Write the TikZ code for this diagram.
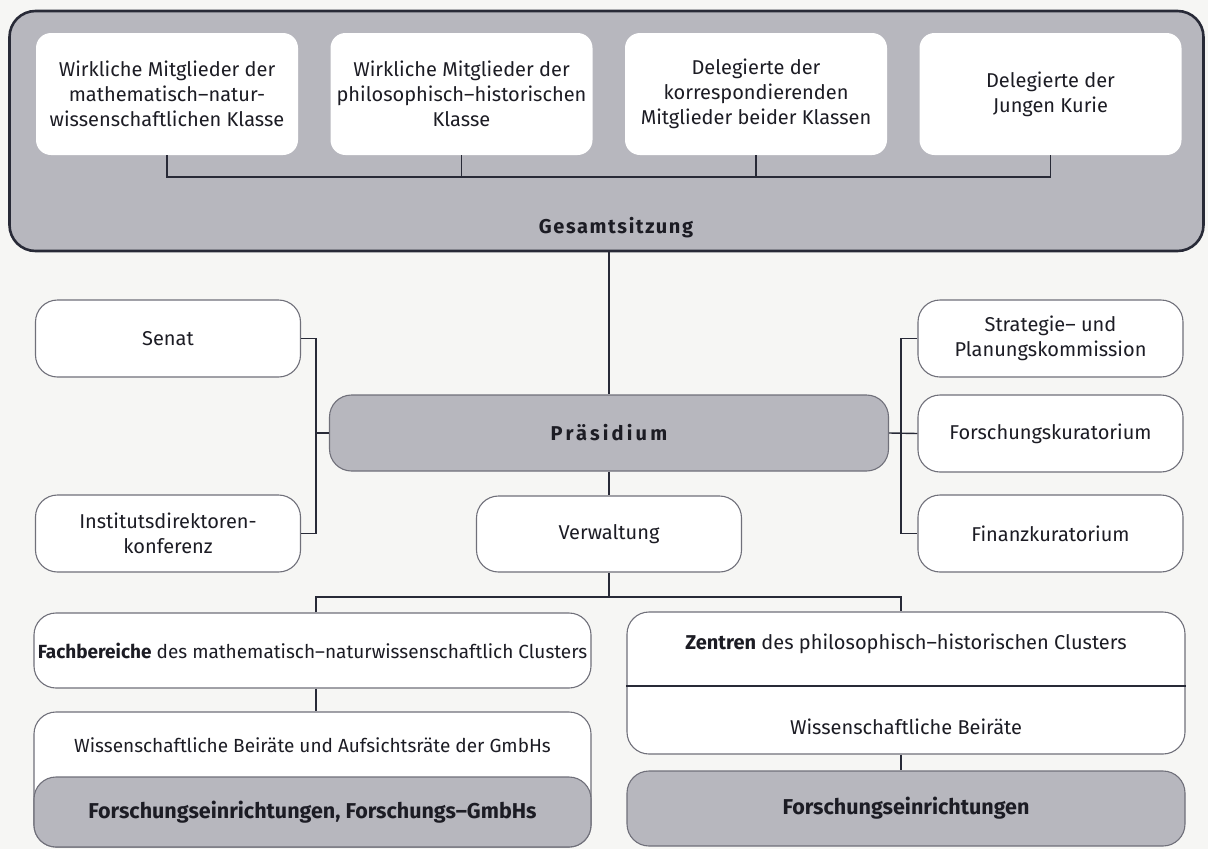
\documentclass[tikz,border=0pt]{standalone}
\usepackage{fontspec}
\setmainfont{Fira Sans}
\definecolor{boxgray}{RGB}{183,183,190}
\definecolor{darkline}{RGB}{40,42,55}
\definecolor{edgegray}{RGB}{112,112,122}
\definecolor{inkcol}{RGB}{28,28,36}
\definecolor{paper}{RGB}{246,246,244}
\newcommand{\gesperrt}{\addfontfeatures{LetterSpace=8}}
\newcommand{\weitgesperrt}{\addfontfeatures{LetterSpace=16}}

\begin{document}
\begin{tikzpicture}[x=1pt, y=-1pt,
	every node/.style={text=inkcol, font=\fontsize{20}{25}\selectfont},
	topbox/.style={fill=white, rounded corners=15pt, minimum width=262pt, minimum height=122pt, align=center, inner sep=2pt},
	wbox/.style={draw=edgegray, line width=1.1pt, fill=white, rounded corners=22pt, minimum width=265pt, minimum height=77pt, align=center, inner sep=2pt},
	gbox/.style={wbox, fill=boxgray, font=\fontsize{21.5}{25}\selectfont\bfseries},
	small/.style={font=\fontsize{19}{25}\selectfont},
	conn/.style={draw=darkline, line width=1.4pt}]
	\fill[paper] (0,0) rectangle (1208,849);
	\useasboundingbox (0,0) rectangle (1208,849);
	\coordinate (topbar) at (0,177);
	\coordinate (lbus) at (316,0);
	\coordinate (rbus) at (901,0);
	\coordinate (bbus) at (0,597);
	\coordinate (zdiv) at (0,686);

	\draw (606.5,131) node[draw=darkline, line width=2.6pt, fill=boxgray, rounded corners=26pt, minimum width=1194pt, minimum height=240pt] (gesamt) {};
	\draw (167,94) node[topbox] (wmn) {Wirkliche Mitglieder der\\mathematisch–natur-\\wissenschaftlichen Klasse};
	\draw (461.5,94) node[topbox] (wph) {Wirkliche Mitglieder der\\philosophisch–historischen\\Klasse};
	\draw (756,94) node[topbox] (kor) {Delegierte der\\korrespondierenden\\Mitglieder beider Klassen};
	\draw (1050.5,94) node[topbox] (jk) {Delegierte der\\Jungen Kurie};
	\draw (616,228) node[font=\fontsize{20}{25}\selectfont\bfseries] (gesamttitel) {\gesperrt Gesamtsitzung};
	\draw[conn] (wmn.south) |- (topbar -| jk.south) -- (jk.south);
	\draw[conn] (wph.south) -- (wph.south |- topbar);
	\draw[conn] (kor.south) -- (kor.south |- topbar);

	\draw (168,338.5) node[wbox] (senat) {Senat};
	\draw (168,533.5) node[wbox] (idk) {Institutsdirektoren-\\konferenz};
	\draw (609,433) node[gbox, font=\fontsize{20}{25}\selectfont\bfseries, minimum width=559pt, minimum height=76pt] (praes) {\weitgesperrt Präsidium};
	\draw (609,534) node[wbox, minimum height=76pt] (verw) {Verwaltung};
	\draw (1050.5,338.5) node[wbox] (spk) {Strategie– und\\Planungskommission};
	\draw (1050.5,433.5) node[wbox] (fk) {Forschungskuratorium};
	\draw (1050.5,533.5) node[wbox] (fin) {Finanzkuratorium};
	\draw[conn] (praes.north |- gesamt.south) -- (praes.north);
	\draw[conn] (praes.south) -- (verw.north);
	\draw[conn] (senat.east) -| (lbus |- idk.east) -- (idk.east);
	\draw[conn] (praes.west) -- (lbus |- praes.west);
	\draw[conn] (spk.west) -| (rbus |- fin.west) -- (fin.west);
	\draw[conn] (praes.east) -- (fk.west);

	\draw (312.5,650.5) node[wbox, small, minimum width=557pt, minimum height=75pt] (fach) {\textbf{Fachbereiche} des mathematisch–naturwissenschaftlich Clusters};
	\draw (312.5,779.5) node[wbox, minimum width=557pt, minimum height=135pt] (wbr) {};
	\draw (312.5,745) node[small] (wbrtext) {Wissenschaftliche Beiräte und Aufsichtsräte der GmbHs};
	\draw (312.5,812) node[gbox, minimum width=557pt, minimum height=70pt] (fe1) {Forschungseinrichtungen, Forschungs–GmbHs};
	\draw (906,683) node[wbox, minimum width=558pt, minimum height=142pt] (zent) {};
	\draw (906,644) node (zenttext) {\textbf{Zentren} des philosophisch–historischen Clusters};
	\draw (906,727) node (wbtext) {Wissenschaftliche Beiräte};
	\draw (906,808.5) node[gbox, minimum width=558pt, minimum height=75pt] (fe2) {Forschungseinrichtungen};
	\draw[draw=darkline, line width=1.4pt] (zent.west |- zdiv) -- (zent.east |- zdiv);
	\draw[conn] (verw.south) -- (verw.south |- bbus);
	\draw[conn] (lbus |- fach.north) |- (bbus -| rbus) -- (rbus |- zent.north);
	\draw[conn] (lbus |- fach.south) -- (lbus |- wbr.north);
	\draw[conn] (rbus |- zent.south) -- (rbus |- fe2.north);
\end{tikzpicture}
\end{document}
